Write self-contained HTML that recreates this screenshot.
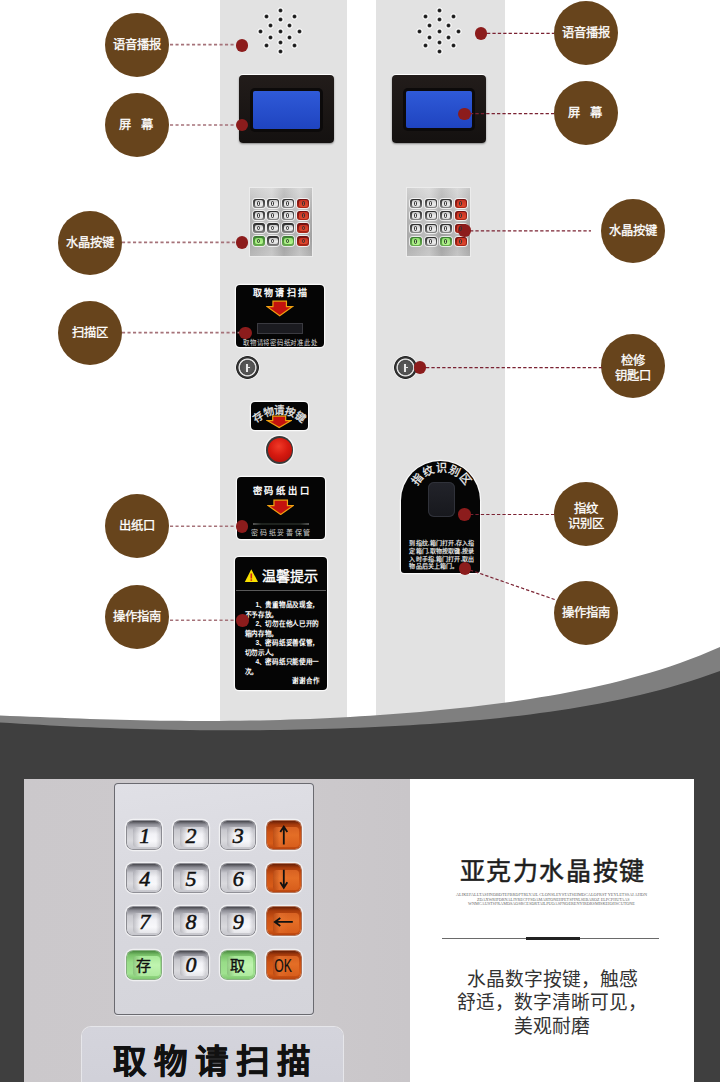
<!DOCTYPE html>
<html lang="zh-CN"><head><meta charset="utf-8">
<style>
html,body{margin:0;padding:0;}
body{width:720px;height:1082px;overflow:hidden;position:relative;background:#fff;font-family:"Liberation Sans",sans-serif;}
.a{position:absolute;}
.panel{position:absolute;top:0;height:740px;background:#e2e2e2;}
.c{position:absolute;width:64px;height:64px;border-radius:50%;background:#67441c;color:#fff;font-weight:normal;-webkit-text-stroke:0.3px #fff;font-size:12.3px;display:flex;align-items:center;justify-content:center;text-align:center;line-height:15px;white-space:nowrap;}
.dot{position:absolute;width:12.5px;height:12.5px;border-radius:50%;background:#8c1c1c;}
.dl{position:absolute;height:2px;background:repeating-linear-gradient(90deg,#a07078 0 3.6px,transparent 3.6px 5.3px);}
.dr{position:absolute;height:1.3px;background:repeating-linear-gradient(90deg,#7a2232 0 3.4px,transparent 3.4px 5.4px);}
.sp{position:absolute;width:7px;height:7px;border-radius:50%;background:radial-gradient(circle closest-side,#151515 0,#222 38%,#8a8a8a 52%,#ffffff 72%,rgba(255,255,255,.6) 88%,rgba(255,255,255,0) 100%);}
.scr{position:absolute;border-radius:4px;background:linear-gradient(#221c1a,#141110);box-shadow:0 -1px 0 #fff, 0 1px 2px rgba(0,0,0,.4);}
.blue{position:absolute;border-radius:2px;background:linear-gradient(#2f5ad8,#1f44c0);box-shadow:0 0 0 3px #0c0a0a;}
.kp{position:absolute;background:linear-gradient(90deg,rgba(255,255,255,.0),rgba(255,255,255,.25) 35%,rgba(0,0,0,.06) 55%,rgba(255,255,255,.2) 80%,rgba(0,0,0,.05)),linear-gradient(#d0d0d0,#b2b2b2 45%,#a8a8a8 75%,#b8b8b8);box-shadow:0 0 0 1px #ececec;}
.sk{position:absolute;width:12px;height:9.5px;border-radius:3px;background:linear-gradient(#2a2a2a,#5a5a5a 60%,#8a8a8a);box-shadow:0 0 0 1px rgba(255,255,255,.75);font:bold 6px/8px "Liberation Serif",serif;color:#222;text-align:center;}
.sk::after{content:"";position:absolute;left:2.2px;top:1.6px;width:8.6px;height:6.6px;border-radius:2px;background:linear-gradient(#c8c8c8,#ececec 60%,#d8d8d8);}
.sk.r{background:linear-gradient(#701010,#b02818);}
.sk.r::after{background:linear-gradient(#c83222,#e04a30);}
.sk.g{background:linear-gradient(#3a7a30,#6ab050);}
.sk.g::after{background:linear-gradient(#90e070,#b8f890);}
.sk i{position:absolute;left:4.3px;top:2.4px;width:3.2px;height:4.6px;border:0.9px solid #333;border-radius:1.5px;box-sizing:border-box;z-index:1;}
.blk{position:absolute;background:#050505;border-radius:4px;box-shadow:0 0 0 1.2px #fafafa;color:#fff;text-align:center;}
</style></head><body>
<div class="panel" style="left:220px;width:127px;"></div>
<div class="panel" style="left:376px;width:129px;"></div>
<div class="sp" style="left:276.5px;top:7.2px"></div>
<div class="sp" style="left:276.5px;top:15.9px"></div>
<div class="sp" style="left:276.5px;top:27.7px"></div>
<div class="sp" style="left:276.5px;top:39.2px"></div>
<div class="sp" style="left:276.5px;top:47.7px"></div>
<div class="sp" style="left:262.5px;top:13.2px"></div>
<div class="sp" style="left:290.5px;top:13.2px"></div>
<div class="sp" style="left:262.5px;top:42.2px"></div>
<div class="sp" style="left:290.5px;top:42.2px"></div>
<div class="sp" style="left:266.5px;top:21.7px"></div>
<div class="sp" style="left:286.0px;top:21.7px"></div>
<div class="sp" style="left:266.5px;top:33.7px"></div>
<div class="sp" style="left:286.0px;top:33.7px"></div>
<div class="sp" style="left:256.5px;top:27.7px"></div>
<div class="sp" style="left:296.0px;top:27.7px"></div>
<div class="sp" style="left:435.5px;top:7.1px"></div>
<div class="sp" style="left:435.5px;top:15.8px"></div>
<div class="sp" style="left:435.5px;top:27.6px"></div>
<div class="sp" style="left:435.5px;top:39.1px"></div>
<div class="sp" style="left:435.5px;top:47.6px"></div>
<div class="sp" style="left:421.5px;top:13.1px"></div>
<div class="sp" style="left:449.5px;top:13.1px"></div>
<div class="sp" style="left:421.5px;top:42.1px"></div>
<div class="sp" style="left:449.5px;top:42.1px"></div>
<div class="sp" style="left:425.5px;top:21.6px"></div>
<div class="sp" style="left:445.0px;top:21.6px"></div>
<div class="sp" style="left:425.5px;top:33.6px"></div>
<div class="sp" style="left:445.0px;top:33.6px"></div>
<div class="sp" style="left:415.5px;top:27.6px"></div>
<div class="sp" style="left:455.0px;top:27.6px"></div>
<div class="scr" style="left:239.0px;top:75.0px;width:95.0px;height:68.0px"></div>
<div class="blue" style="left:252.5px;top:90.5px;width:67.0px;height:38.2px"></div>
<div class="scr" style="left:392.0px;top:75.0px;width:93.6px;height:67.7px"></div>
<div class="blue" style="left:405.6px;top:90.7px;width:66.2px;height:37.7px"></div>
<div class="kp" style="left:250.0px;top:188.0px;width:62.0px;height:68.0px"></div>
<div class="sk" style="left:252.5px;top:198.6px"><i></i></div>
<div class="sk" style="left:267.0px;top:198.6px"><i></i></div>
<div class="sk" style="left:282.0px;top:198.6px"><i></i></div>
<div class="sk r" style="left:297.3px;top:198.6px"><i></i></div>
<div class="sk" style="left:252.5px;top:210.7px"><i></i></div>
<div class="sk" style="left:267.0px;top:210.7px"><i></i></div>
<div class="sk" style="left:282.0px;top:210.7px"><i></i></div>
<div class="sk r" style="left:297.3px;top:210.7px"><i></i></div>
<div class="sk" style="left:252.5px;top:223.2px"><i></i></div>
<div class="sk" style="left:267.0px;top:223.2px"><i></i></div>
<div class="sk" style="left:282.0px;top:223.2px"><i></i></div>
<div class="sk r" style="left:297.3px;top:223.2px"><i></i></div>
<div class="sk g" style="left:252.5px;top:236.3px"><i></i></div>
<div class="sk" style="left:267.0px;top:236.3px"><i></i></div>
<div class="sk g" style="left:282.0px;top:236.3px"><i></i></div>
<div class="sk r" style="left:297.3px;top:236.3px"><i></i></div>
<div class="kp" style="left:407.4px;top:187.8px;width:62.9px;height:68.0px"></div>
<div class="sk" style="left:409.7px;top:198.6px"><i></i></div>
<div class="sk" style="left:425.0px;top:198.6px"><i></i></div>
<div class="sk" style="left:439.6px;top:198.6px"><i></i></div>
<div class="sk r" style="left:454.8px;top:198.6px"><i></i></div>
<div class="sk" style="left:409.7px;top:210.8px"><i></i></div>
<div class="sk" style="left:425.0px;top:210.8px"><i></i></div>
<div class="sk" style="left:439.6px;top:210.8px"><i></i></div>
<div class="sk r" style="left:454.8px;top:210.8px"><i></i></div>
<div class="sk" style="left:409.7px;top:223.6px"><i></i></div>
<div class="sk" style="left:425.0px;top:223.6px"><i></i></div>
<div class="sk" style="left:439.6px;top:223.6px"><i></i></div>
<div class="sk r" style="left:454.8px;top:223.6px"><i></i></div>
<div class="sk g" style="left:409.7px;top:236.6px"><i></i></div>
<div class="sk" style="left:425.0px;top:236.6px"><i></i></div>
<div class="sk g" style="left:439.6px;top:236.6px"><i></i></div>
<div class="sk r" style="left:454.8px;top:236.6px"><i></i></div>
<div class="blk" style="left:235.7px;top:284.9px;width:88.6px;height:62.6px;"></div>
<div class="a" style="left:235.7px;top:286.6px;width:88.6px;height:13.5px;line-height:13.5px;font-size:9.00px;text-align:center;white-space:nowrap;color:#fff;-webkit-text-stroke:0.35px #fff;letter-spacing:2.1px;text-indent:2.1px;">取物请扫描</div>
<svg class="a" style="left:266.3px;top:300.3px" width="27.4" height="16.9"><path d="M6.95,1.20 L20.45,1.20 L20.45,6.71 L26.20,6.71 L13.70,15.70 L1.20,6.71 L6.95,6.71 Z" fill="#c4120e" stroke="#f0a010" stroke-width="1.2" stroke-linejoin="miter"/></svg>
<div class="a" style="left:257px;top:323.2px;width:46px;height:11px;background:#1b1b20;box-shadow:inset 0 0 0 1px #3a3a40;"></div>
<div class="a" style="left:235.7px;top:338.0px;width:88.6px;height:9.6px;line-height:9.6px;font-size:6.40px;text-align:center;white-space:nowrap;color:#fff;color:#ddd;letter-spacing:0.75px;text-indent:0.75px;">取物请将密码纸对准此处</div>
<div class="a" style="left:234.7px;top:355.4px;width:25px;height:25px;border-radius:50%;background:radial-gradient(circle closest-side,#606060 0,#4e4e4e 7.2px,#d0d0d0 7.9px,#e8e8e8 8.6px,#3a3a3a 9.4px,#262626 11px,#f6f6f6 11.8px,rgba(246,246,246,0) 12.5px);"></div>
<div class="a" style="left:246.4px;top:363.9px;width:1.5px;height:8px;background:#e8e8e8;"></div>
<div class="a" style="left:247.9px;top:366.9px;width:2px;height:1.2px;background:#e8e8e8;"></div>
<div class="a" style="left:392.5px;top:355.0px;width:25px;height:25px;border-radius:50%;background:radial-gradient(circle closest-side,#606060 0,#4e4e4e 7.2px,#d0d0d0 7.9px,#e8e8e8 8.6px,#3a3a3a 9.4px,#262626 11px,#f6f6f6 11.8px,rgba(246,246,246,0) 12.5px);"></div>
<div class="a" style="left:404.2px;top:363.5px;width:1.5px;height:8px;background:#e8e8e8;"></div>
<div class="a" style="left:405.7px;top:366.5px;width:2px;height:1.2px;background:#e8e8e8;"></div>
<div class="blk" style="left:250.7px;top:401.9px;width:57.6px;height:28.6px;"></div>
<div class="a" style="left:252.5px;top:412.1px;width:10.5px;height:10.5px;line-height:10.5px;font-size:10.5px;text-align:center;color:#fff;-webkit-text-stroke:0.3px currentColor;transform:rotate(-35.0deg);color:#e8e8e8;">存</div>
<div class="a" style="left:262.7px;top:407.1px;width:10.5px;height:10.5px;line-height:10.5px;font-size:10.5px;text-align:center;color:#fff;-webkit-text-stroke:0.3px currentColor;transform:rotate(-17.5deg);color:#e8e8e8;">物</div>
<div class="a" style="left:273.9px;top:405.4px;width:10.5px;height:10.5px;line-height:10.5px;font-size:10.5px;text-align:center;color:#fff;-webkit-text-stroke:0.3px currentColor;transform:rotate(0.0deg);color:#e8e8e8;">请</div>
<div class="a" style="left:285.2px;top:407.1px;width:10.5px;height:10.5px;line-height:10.5px;font-size:10.5px;text-align:center;color:#fff;-webkit-text-stroke:0.3px currentColor;transform:rotate(17.5deg);color:#e8e8e8;">按</div>
<div class="a" style="left:295.4px;top:412.1px;width:10.5px;height:10.5px;line-height:10.5px;font-size:10.5px;text-align:center;color:#fff;-webkit-text-stroke:0.3px currentColor;transform:rotate(35.0deg);color:#e8e8e8;">键</div>
<svg class="a" style="left:266.1px;top:414.8px" width="26.4" height="13.8"><path d="M6.72,1.20 L19.68,1.20 L19.68,5.53 L25.20,5.53 L13.20,12.60 L1.20,5.53 L6.72,5.53 Z" fill="#c4120e" stroke="#f0a010" stroke-width="1.2" stroke-linejoin="miter"/></svg>
<div class="a" style="left:265.9px;top:436.1px;width:27.5px;height:27.5px;border-radius:50%;background:#3a3a3a;box-shadow:0 0 0 1.3px #f5f5f5;"></div>
<div class="a" style="left:267.7px;top:437.9px;width:24px;height:24px;border-radius:50%;background:radial-gradient(circle at 45% 35%,#f03a28 0,#d61a10 45%,#a80c08 100%);"></div>
<div class="blk" style="left:236.5px;top:476.9px;width:88.6px;height:62.6px;"></div>
<div class="a" style="left:236.5px;top:484.0px;width:88.6px;height:14.0px;line-height:14.0px;font-size:9.30px;text-align:center;white-space:nowrap;color:#fff;-webkit-text-stroke:0.35px #fff;letter-spacing:2.8px;text-indent:2.8px;">密码纸出口</div>
<svg class="a" style="left:266.8px;top:498.8px" width="27.4" height="16.7"><path d="M6.95,1.20 L20.45,1.20 L20.45,6.63 L26.20,6.63 L13.70,15.50 L1.20,6.63 L6.95,6.63 Z" fill="#c4120e" stroke="#f0a010" stroke-width="1.2" stroke-linejoin="miter"/></svg>
<div class="a" style="left:253px;top:522.5px;width:56px;height:2px;background:linear-gradient(90deg,#555,#1e221e 15%,#1e221e 85%,#555);"></div>
<div class="a" style="left:236.5px;top:528.4px;width:88.6px;height:10.5px;line-height:10.5px;font-size:7.00px;text-align:center;white-space:nowrap;color:#fff;color:#ccc;letter-spacing:1.7px;text-indent:1.7px;">密码纸妥善保管</div>
<div class="blk" style="left:234.9px;top:556.9px;width:91.7px;height:132.9px;"></div>
<svg class="a" style="left:244px;top:568px" width="15" height="15"><path d="M7.3,1.2 L14,14 L0.8,14 Z" fill="#f8e000"/><rect x="6.5" y="5.5" width="1.6" height="5" fill="#d0201a"/><rect x="6.5" y="11.3" width="1.6" height="1.5" fill="#d0201a"/></svg>
<div class="a" style="left:262px;top:566px;width:60px;height:20px;line-height:20px;font-size:14px;color:#fff;-webkit-text-stroke:0.4px #fff;white-space:nowrap;">温馨提示</div>
<div class="a" style="left:236px;top:589.5px;width:90px;height:1.2px;background:#5a5a5a;"></div>
<div class="a" style="left:255.4px;top:600.0px;height:10px;line-height:10px;font-size:6.6px;color:#fff;font-weight:bold;white-space:nowrap;letter-spacing:-0.3px;">1、贵重物品及现金，</div>
<div class="a" style="left:244.5px;top:609.5px;height:10px;line-height:10px;font-size:6.6px;color:#fff;font-weight:bold;white-space:nowrap;letter-spacing:-0.3px;">不予存放。</div>
<div class="a" style="left:255.4px;top:619.0px;height:10px;line-height:10px;font-size:6.6px;color:#fff;font-weight:bold;white-space:nowrap;letter-spacing:-0.3px;">2、切勿在他人已开的</div>
<div class="a" style="left:244.5px;top:628.5px;height:10px;line-height:10px;font-size:6.6px;color:#fff;font-weight:bold;white-space:nowrap;letter-spacing:-0.3px;">箱内存物。</div>
<div class="a" style="left:255.4px;top:638.0px;height:10px;line-height:10px;font-size:6.6px;color:#fff;font-weight:bold;white-space:nowrap;letter-spacing:-0.3px;">3、密码纸妥善保管，</div>
<div class="a" style="left:244.5px;top:647.5px;height:10px;line-height:10px;font-size:6.6px;color:#fff;font-weight:bold;white-space:nowrap;letter-spacing:-0.3px;">切勿示人。</div>
<div class="a" style="left:255.4px;top:657.1px;height:10px;line-height:10px;font-size:6.6px;color:#fff;font-weight:bold;white-space:nowrap;letter-spacing:-0.3px;">4、密码纸只能使用一</div>
<div class="a" style="left:244.5px;top:666.6px;height:10px;line-height:10px;font-size:6.6px;color:#fff;font-weight:bold;white-space:nowrap;letter-spacing:-0.3px;">次。</div>
<div class="a" style="left:291.5px;top:675.8px;height:10px;line-height:10px;font-size:6.5px;color:#fff;font-weight:bold;white-space:nowrap;">谢谢合作</div>
<div class="a" style="left:401.1px;top:460.8px;width:79.2px;height:111.8px;background:#050505;border-radius:39.6px 39.6px 3px 3px;box-shadow:0 0 0 1.2px #fafafa;"></div>
<div class="a" style="left:412.1px;top:474.1px;width:11.0px;height:11.0px;line-height:11.0px;font-size:11.0px;text-align:center;color:#fff;-webkit-text-stroke:0.3px currentColor;transform:rotate(-52.0deg);color:#f0f0f0;">指</div>
<div class="a" style="left:422.7px;top:465.6px;width:11.0px;height:11.0px;line-height:11.0px;font-size:11.0px;text-align:center;color:#fff;-webkit-text-stroke:0.3px currentColor;transform:rotate(-26.0deg);color:#f0f0f0;">纹</div>
<div class="a" style="left:435.9px;top:462.5px;width:11.0px;height:11.0px;line-height:11.0px;font-size:11.0px;text-align:center;color:#fff;-webkit-text-stroke:0.3px currentColor;transform:rotate(0.0deg);color:#f0f0f0;">识</div>
<div class="a" style="left:449.1px;top:465.6px;width:11.0px;height:11.0px;line-height:11.0px;font-size:11.0px;text-align:center;color:#fff;-webkit-text-stroke:0.3px currentColor;transform:rotate(26.0deg);color:#f0f0f0;">别</div>
<div class="a" style="left:459.7px;top:474.1px;width:11.0px;height:11.0px;line-height:11.0px;font-size:11.0px;text-align:center;color:#fff;-webkit-text-stroke:0.3px currentColor;transform:rotate(52.0deg);color:#f0f0f0;">区</div>
<div class="a" style="left:427.5px;top:481.7px;width:27.8px;height:35.3px;border-radius:6px;background:linear-gradient(#22232a,#17181d);box-shadow:inset 0 0 0 1px #30323a;"></div>
<div class="a" style="left:409.4px;top:538.8px;height:8px;line-height:8px;font-size:6px;color:#e0e0e0;font-weight:bold;white-space:nowrap;letter-spacing:0.15px;">到指纹,箱门打开,存入指</div>
<div class="a" style="left:409.4px;top:547.1px;height:8px;line-height:8px;font-size:6px;color:#e0e0e0;font-weight:bold;white-space:nowrap;letter-spacing:0.15px;">定箱门,取物按取键,按录</div>
<div class="a" style="left:409.4px;top:554.8px;height:8px;line-height:8px;font-size:6px;color:#e0e0e0;font-weight:bold;white-space:nowrap;letter-spacing:0.15px;">入时手指,箱门打开,取出</div>
<div class="a" style="left:409.4px;top:562.4px;height:8px;line-height:8px;font-size:6px;color:#e0e0e0;font-weight:bold;white-space:nowrap;letter-spacing:0.15px;">物品后关上箱门。</div>
<svg class="a" style="left:0;top:0" width="720" height="1082">
<path fill="#7f7f7f" d="M0,715.58 10,715.93 20,716.30 30,716.68 40,717.06 50,717.44 60,717.82 70,718.18 80,718.54 90,718.88 100,719.21 110,719.51 120,719.79 130,720.04 140,720.27 150,720.47 160,720.63 170,720.77 180,720.87 190,720.94 200,720.97 210,720.97 220,720.93 230,720.85 240,720.74 250,720.59 260,720.40 270,720.17 280,719.91 290,719.60 300,719.26 310,718.88 320,718.45 330,717.99 340,717.49 350,716.95 360,716.36 370,715.74 380,715.07 390,714.36 400,713.60 410,712.80 420,711.96 430,711.06 440,710.11 450,709.11 460,708.06 470,706.95 480,705.78 490,704.55 500,703.26 510,701.89 520,700.45 530,698.94 540,697.34 550,695.66 560,693.88 570,692.01 580,690.03 590,687.95 600,685.74 610,683.42 620,680.96 630,678.36 640,675.61 650,672.71 660,669.63 670,666.38 680,662.94 690,659.30 700,655.45 710,651.37 720,647.06 L720,1082 L0,1082 Z"/>
<path fill="#3f3f3f" d="M0,722.49 10,723.11 20,723.72 30,724.31 40,724.87 50,725.41 60,725.92 70,726.41 80,726.88 90,727.31 100,727.72 110,728.10 120,728.45 130,728.77 140,729.06 150,729.32 160,729.55 170,729.75 180,729.92 190,730.06 200,730.17 210,730.25 220,730.30 230,730.32 240,730.31 250,730.26 260,730.19 270,730.09 280,729.95 290,729.79 300,729.59 310,729.36 320,729.10 330,728.81 340,728.48 350,728.12 360,727.73 370,727.30 380,726.83 390,726.33 400,725.79 410,725.21 420,724.59 430,723.92 440,723.21 450,722.46 460,721.65 470,720.79 480,719.88 490,718.91 500,717.88 510,716.79 520,715.63 530,714.41 540,713.10 550,711.72 560,710.26 570,708.71 580,707.07 590,705.33 600,703.49 610,701.54 620,699.47 630,697.28 640,694.97 650,692.52 660,689.93 670,687.18 680,684.28 690,681.21 700,677.97 710,674.54 720,670.91 L720,1082 L0,1082 Z"/>
</svg>

<div class="c" style="left:105px;top:13px;">语音播报</div>
<div class="c" style="left:105px;top:93px;"><span style="padding-right:2px">屏<span style="display:inline-block;width:10px"></span>幕</span></div>
<div class="c" style="left:58px;top:211px;">水晶按键</div>
<div class="c" style="left:58px;top:301px;">扫描区</div>
<div class="c" style="left:105px;top:494px;">出纸口</div>
<div class="c" style="left:105px;top:585px;">操作指南</div>
<div class="c" style="left:554px;top:1px;">语音播报</div>
<div class="c" style="left:554px;top:81px;"><span style="padding-right:2px">屏<span style="display:inline-block;width:10px"></span>幕</span></div>
<div class="c" style="left:601px;top:199px;">水晶按键</div>
<div class="c" style="left:601px;top:334px;padding-top:5px;box-sizing:border-box;">检修<br>钥匙口</div>
<div class="c" style="left:554px;top:482px;padding-top:5px;box-sizing:border-box;">指纹<br>识别区</div>
<div class="c" style="left:554px;top:581px;">操作指南</div>
<svg class="a" style="left:0;top:0" width="720" height="1082">
<g stroke="#a57279" stroke-width="1.6" stroke-dasharray="3.1 2.4">
<line x1="170" y1="44.6" x2="236" y2="44.6"/>
<line x1="170" y1="125" x2="236" y2="125"/>
<line x1="122" y1="242.4" x2="236" y2="242.4"/>
<line x1="122" y1="332.6" x2="240" y2="332.6"/>
<line x1="170" y1="526.2" x2="236" y2="526.2"/>
<line x1="170" y1="620.2" x2="236" y2="620.2"/>
</g>
<g stroke="#7a2232" stroke-width="1.2" stroke-dasharray="3.3 2.1">
<line x1="487" y1="33.4" x2="554" y2="33.4"/>
<line x1="470" y1="113.7" x2="554" y2="113.7"/>
<line x1="470" y1="230.8" x2="591" y2="230.8"/>
<line x1="426" y1="367.6" x2="602" y2="367.6"/>
<line x1="470" y1="514.5" x2="554" y2="514.5"/>
<line x1="470" y1="570" x2="556" y2="600"/>
</g>
</svg>
<div class="dot" style="left:235.5px;top:39.25px;"></div>
<div class="dot" style="left:235.5px;top:118.75px;"></div>
<div class="dot" style="left:235.5px;top:236.25px;"></div>
<div class="dot" style="left:239.3px;top:326.5px;"></div>
<div class="dot" style="left:235.8px;top:520px;"></div>
<div class="dot" style="left:236.3px;top:614px;"></div>
<div class="dot" style="left:474.8px;top:27px;"></div>
<div class="dot" style="left:458.1px;top:107.5px;"></div>
<div class="dot" style="left:458px;top:224.2px;"></div>
<div class="dot" style="left:413.7px;top:361.2px;"></div>
<div class="dot" style="left:458px;top:508px;"></div>
<div class="dot" style="left:458.7px;top:562.2px;"></div>

<div class="a" style="left:24px;top:779px;width:386px;height:303px;background:linear-gradient(90deg,#cbc8cb,#cdcacd 60%,#c9c6c9);"></div>
<div class="a" style="left:410px;top:779px;width:284px;height:303px;background:#fff;"></div>
<div class="a" style="left:113.5px;top:783.2px;width:200px;height:232.3px;border-radius:4px;background:linear-gradient(170deg,#e0e0e6,#d8d8de 50%,#d4d4da);box-shadow:inset 0 0 0 1px #6a6a70, 0 1px 0 #e8e8ec;"></div>
<div class="a" style="left:127.2px;top:821.1px;width:34px;height:28px;border-radius:6px;background:linear-gradient(#46464c,#8c8c94 12%,#c8c8ce 32%,#dadade 70%,#c6c6cc);box-shadow:0 0 0 0.8px rgba(100,100,108,.9),0 0 0 2.2px rgba(255,255,255,.6);"></div>
<div class="a" style="left:133.2px;top:826.6px;width:26.5px;height:20px;border-radius:3.5px;background:linear-gradient(90deg,rgba(90,90,100,.35),rgba(0,0,0,0) 28%,rgba(0,0,0,0) 85%,rgba(90,90,100,.2)),linear-gradient(#d0d0d6,#f2f2f6 35%,#f8f8fb 70%,#e6e6ea);"></div>
<div class="a" style="left:127.7px;top:821.9px;width:34px;height:28px;line-height:28px;text-align:center;font-family:'Liberation Serif',serif;font-style:italic;font-size:22px;color:#111;-webkit-text-stroke:0.55px #111;">1</div>
<div class="a" style="left:173.5px;top:821.1px;width:34px;height:28px;border-radius:6px;background:linear-gradient(#46464c,#8c8c94 12%,#c8c8ce 32%,#dadade 70%,#c6c6cc);box-shadow:0 0 0 0.8px rgba(100,100,108,.9),0 0 0 2.2px rgba(255,255,255,.6);"></div>
<div class="a" style="left:179.5px;top:826.6px;width:26.5px;height:20px;border-radius:3.5px;background:linear-gradient(90deg,rgba(90,90,100,.35),rgba(0,0,0,0) 28%,rgba(0,0,0,0) 85%,rgba(90,90,100,.2)),linear-gradient(#d0d0d6,#f2f2f6 35%,#f8f8fb 70%,#e6e6ea);"></div>
<div class="a" style="left:174.0px;top:821.9px;width:34px;height:28px;line-height:28px;text-align:center;font-family:'Liberation Serif',serif;font-style:italic;font-size:22px;color:#111;-webkit-text-stroke:0.55px #111;">2</div>
<div class="a" style="left:220.8px;top:821.1px;width:34px;height:28px;border-radius:6px;background:linear-gradient(#46464c,#8c8c94 12%,#c8c8ce 32%,#dadade 70%,#c6c6cc);box-shadow:0 0 0 0.8px rgba(100,100,108,.9),0 0 0 2.2px rgba(255,255,255,.6);"></div>
<div class="a" style="left:226.8px;top:826.6px;width:26.5px;height:20px;border-radius:3.5px;background:linear-gradient(90deg,rgba(90,90,100,.35),rgba(0,0,0,0) 28%,rgba(0,0,0,0) 85%,rgba(90,90,100,.2)),linear-gradient(#d0d0d6,#f2f2f6 35%,#f8f8fb 70%,#e6e6ea);"></div>
<div class="a" style="left:221.3px;top:821.9px;width:34px;height:28px;line-height:28px;text-align:center;font-family:'Liberation Serif',serif;font-style:italic;font-size:22px;color:#111;-webkit-text-stroke:0.55px #111;">3</div>
<div class="a" style="left:266.8px;top:821.1px;width:34px;height:28px;border-radius:6px;background:linear-gradient(#6a2006,#a83c0c 14%,#cc5214 40%,#d85c18 80%,#b8440e);box-shadow:0 0 0 0.8px rgba(150,60,20,.9),0 0 0 2.2px rgba(255,255,255,.6);"></div>
<div class="a" style="left:272.8px;top:826.6px;width:26.5px;height:20px;border-radius:3.5px;background:linear-gradient(90deg,rgba(120,30,0,.35),rgba(255,150,80,.15) 25%,rgba(0,0,0,0) 60%),linear-gradient(#d86222,#e46e26 40%,#d85e1c);"></div>
<svg class="a" style="left:0;top:0;overflow:visible" width="1" height="1"><path d="M283.8,844.6 L283.8,827.6 M280.3,832.1 L283.8,826.6 L287.3,832.1" stroke="#111" stroke-width="1.8" fill="none"/></svg>
<div class="a" style="left:127.2px;top:864.2px;width:34px;height:28px;border-radius:6px;background:linear-gradient(#46464c,#8c8c94 12%,#c8c8ce 32%,#dadade 70%,#c6c6cc);box-shadow:0 0 0 0.8px rgba(100,100,108,.9),0 0 0 2.2px rgba(255,255,255,.6);"></div>
<div class="a" style="left:133.2px;top:869.7px;width:26.5px;height:20px;border-radius:3.5px;background:linear-gradient(90deg,rgba(90,90,100,.35),rgba(0,0,0,0) 28%,rgba(0,0,0,0) 85%,rgba(90,90,100,.2)),linear-gradient(#d0d0d6,#f2f2f6 35%,#f8f8fb 70%,#e6e6ea);"></div>
<div class="a" style="left:127.7px;top:865.0px;width:34px;height:28px;line-height:28px;text-align:center;font-family:'Liberation Serif',serif;font-style:italic;font-size:22px;color:#111;-webkit-text-stroke:0.55px #111;">4</div>
<div class="a" style="left:173.5px;top:864.2px;width:34px;height:28px;border-radius:6px;background:linear-gradient(#46464c,#8c8c94 12%,#c8c8ce 32%,#dadade 70%,#c6c6cc);box-shadow:0 0 0 0.8px rgba(100,100,108,.9),0 0 0 2.2px rgba(255,255,255,.6);"></div>
<div class="a" style="left:179.5px;top:869.7px;width:26.5px;height:20px;border-radius:3.5px;background:linear-gradient(90deg,rgba(90,90,100,.35),rgba(0,0,0,0) 28%,rgba(0,0,0,0) 85%,rgba(90,90,100,.2)),linear-gradient(#d0d0d6,#f2f2f6 35%,#f8f8fb 70%,#e6e6ea);"></div>
<div class="a" style="left:174.0px;top:865.0px;width:34px;height:28px;line-height:28px;text-align:center;font-family:'Liberation Serif',serif;font-style:italic;font-size:22px;color:#111;-webkit-text-stroke:0.55px #111;">5</div>
<div class="a" style="left:220.8px;top:864.2px;width:34px;height:28px;border-radius:6px;background:linear-gradient(#46464c,#8c8c94 12%,#c8c8ce 32%,#dadade 70%,#c6c6cc);box-shadow:0 0 0 0.8px rgba(100,100,108,.9),0 0 0 2.2px rgba(255,255,255,.6);"></div>
<div class="a" style="left:226.8px;top:869.7px;width:26.5px;height:20px;border-radius:3.5px;background:linear-gradient(90deg,rgba(90,90,100,.35),rgba(0,0,0,0) 28%,rgba(0,0,0,0) 85%,rgba(90,90,100,.2)),linear-gradient(#d0d0d6,#f2f2f6 35%,#f8f8fb 70%,#e6e6ea);"></div>
<div class="a" style="left:221.3px;top:865.0px;width:34px;height:28px;line-height:28px;text-align:center;font-family:'Liberation Serif',serif;font-style:italic;font-size:22px;color:#111;-webkit-text-stroke:0.55px #111;">6</div>
<div class="a" style="left:266.8px;top:864.2px;width:34px;height:28px;border-radius:6px;background:linear-gradient(#6a2006,#a83c0c 14%,#cc5214 40%,#d85c18 80%,#b8440e);box-shadow:0 0 0 0.8px rgba(150,60,20,.9),0 0 0 2.2px rgba(255,255,255,.6);"></div>
<div class="a" style="left:272.8px;top:869.7px;width:26.5px;height:20px;border-radius:3.5px;background:linear-gradient(90deg,rgba(120,30,0,.35),rgba(255,150,80,.15) 25%,rgba(0,0,0,0) 60%),linear-gradient(#d86222,#e46e26 40%,#d85e1c);"></div>
<svg class="a" style="left:0;top:0;overflow:visible" width="1" height="1"><path d="M283.8,869.7 L283.8,886.7 M280.3,882.2 L283.8,887.7 L287.3,882.2" stroke="#111" stroke-width="1.8" fill="none"/></svg>
<div class="a" style="left:127.2px;top:907.4px;width:34px;height:28px;border-radius:6px;background:linear-gradient(#46464c,#8c8c94 12%,#c8c8ce 32%,#dadade 70%,#c6c6cc);box-shadow:0 0 0 0.8px rgba(100,100,108,.9),0 0 0 2.2px rgba(255,255,255,.6);"></div>
<div class="a" style="left:133.2px;top:912.9px;width:26.5px;height:20px;border-radius:3.5px;background:linear-gradient(90deg,rgba(90,90,100,.35),rgba(0,0,0,0) 28%,rgba(0,0,0,0) 85%,rgba(90,90,100,.2)),linear-gradient(#d0d0d6,#f2f2f6 35%,#f8f8fb 70%,#e6e6ea);"></div>
<div class="a" style="left:127.7px;top:908.2px;width:34px;height:28px;line-height:28px;text-align:center;font-family:'Liberation Serif',serif;font-style:italic;font-size:22px;color:#111;-webkit-text-stroke:0.55px #111;">7</div>
<div class="a" style="left:173.5px;top:907.4px;width:34px;height:28px;border-radius:6px;background:linear-gradient(#46464c,#8c8c94 12%,#c8c8ce 32%,#dadade 70%,#c6c6cc);box-shadow:0 0 0 0.8px rgba(100,100,108,.9),0 0 0 2.2px rgba(255,255,255,.6);"></div>
<div class="a" style="left:179.5px;top:912.9px;width:26.5px;height:20px;border-radius:3.5px;background:linear-gradient(90deg,rgba(90,90,100,.35),rgba(0,0,0,0) 28%,rgba(0,0,0,0) 85%,rgba(90,90,100,.2)),linear-gradient(#d0d0d6,#f2f2f6 35%,#f8f8fb 70%,#e6e6ea);"></div>
<div class="a" style="left:174.0px;top:908.2px;width:34px;height:28px;line-height:28px;text-align:center;font-family:'Liberation Serif',serif;font-style:italic;font-size:22px;color:#111;-webkit-text-stroke:0.55px #111;">8</div>
<div class="a" style="left:220.8px;top:907.4px;width:34px;height:28px;border-radius:6px;background:linear-gradient(#46464c,#8c8c94 12%,#c8c8ce 32%,#dadade 70%,#c6c6cc);box-shadow:0 0 0 0.8px rgba(100,100,108,.9),0 0 0 2.2px rgba(255,255,255,.6);"></div>
<div class="a" style="left:226.8px;top:912.9px;width:26.5px;height:20px;border-radius:3.5px;background:linear-gradient(90deg,rgba(90,90,100,.35),rgba(0,0,0,0) 28%,rgba(0,0,0,0) 85%,rgba(90,90,100,.2)),linear-gradient(#d0d0d6,#f2f2f6 35%,#f8f8fb 70%,#e6e6ea);"></div>
<div class="a" style="left:221.3px;top:908.2px;width:34px;height:28px;line-height:28px;text-align:center;font-family:'Liberation Serif',serif;font-style:italic;font-size:22px;color:#111;-webkit-text-stroke:0.55px #111;">9</div>
<div class="a" style="left:266.8px;top:907.4px;width:34px;height:28px;border-radius:6px;background:linear-gradient(#6a2006,#a83c0c 14%,#cc5214 40%,#d85c18 80%,#b8440e);box-shadow:0 0 0 0.8px rgba(150,60,20,.9),0 0 0 2.2px rgba(255,255,255,.6);"></div>
<div class="a" style="left:272.8px;top:912.9px;width:26.5px;height:20px;border-radius:3.5px;background:linear-gradient(90deg,rgba(120,30,0,.35),rgba(255,150,80,.15) 25%,rgba(0,0,0,0) 60%),linear-gradient(#d86222,#e46e26 40%,#d85e1c);"></div>
<svg class="a" style="left:0;top:0;overflow:visible" width="1" height="1"><path d="M292.8,921.9 L275.8,921.9 M280.3,917.9 L274.8,921.9 L280.3,925.9" stroke="#111" stroke-width="1.8" fill="none"/></svg>
<div class="a" style="left:127.2px;top:950.5px;width:34px;height:28px;border-radius:6px;background:linear-gradient(#4a8a40,#78c068 14%,#98dc88 40%,#a0e290 80%,#80c870);box-shadow:0 0 0 0.8px rgba(90,150,80,.9),0 0 0 2.2px rgba(255,255,255,.6);"></div>
<div class="a" style="left:133.2px;top:956.0px;width:26.5px;height:20px;border-radius:3.5px;background:linear-gradient(90deg,rgba(40,100,30,.3),rgba(0,0,0,0) 30%),linear-gradient(#a8e898,#c0f4b0 45%,#aeea9e);"></div>
<div class="a" style="left:126.7px;top:952.0px;width:34px;height:28px;line-height:28px;text-align:center;font-size:15px;color:#111;-webkit-text-stroke:0.4px #111;">存</div>
<div class="a" style="left:173.5px;top:950.5px;width:34px;height:28px;border-radius:6px;background:linear-gradient(#46464c,#8c8c94 12%,#c8c8ce 32%,#dadade 70%,#c6c6cc);box-shadow:0 0 0 0.8px rgba(100,100,108,.9),0 0 0 2.2px rgba(255,255,255,.6);"></div>
<div class="a" style="left:179.5px;top:956.0px;width:26.5px;height:20px;border-radius:3.5px;background:linear-gradient(90deg,rgba(90,90,100,.35),rgba(0,0,0,0) 28%,rgba(0,0,0,0) 85%,rgba(90,90,100,.2)),linear-gradient(#d0d0d6,#f2f2f6 35%,#f8f8fb 70%,#e6e6ea);"></div>
<div class="a" style="left:174.0px;top:951.3px;width:34px;height:28px;line-height:28px;text-align:center;font-family:'Liberation Serif',serif;font-style:italic;font-size:22px;color:#111;-webkit-text-stroke:0.55px #111;">0</div>
<div class="a" style="left:220.8px;top:950.5px;width:34px;height:28px;border-radius:6px;background:linear-gradient(#4a8a40,#78c068 14%,#98dc88 40%,#a0e290 80%,#80c870);box-shadow:0 0 0 0.8px rgba(90,150,80,.9),0 0 0 2.2px rgba(255,255,255,.6);"></div>
<div class="a" style="left:226.8px;top:956.0px;width:26.5px;height:20px;border-radius:3.5px;background:linear-gradient(90deg,rgba(40,100,30,.3),rgba(0,0,0,0) 30%),linear-gradient(#a8e898,#c0f4b0 45%,#aeea9e);"></div>
<div class="a" style="left:220.3px;top:952.0px;width:34px;height:28px;line-height:28px;text-align:center;font-size:15px;color:#111;-webkit-text-stroke:0.4px #111;">取</div>
<div class="a" style="left:266.8px;top:950.5px;width:34px;height:28px;border-radius:6px;background:linear-gradient(#6a2006,#a83c0c 14%,#cc5214 40%,#d85c18 80%,#b8440e);box-shadow:0 0 0 0.8px rgba(150,60,20,.9),0 0 0 2.2px rgba(255,255,255,.6);"></div>
<div class="a" style="left:272.8px;top:956.0px;width:26.5px;height:20px;border-radius:3.5px;background:linear-gradient(90deg,rgba(120,30,0,.35),rgba(255,150,80,.15) 25%,rgba(0,0,0,0) 60%),linear-gradient(#d86222,#e46e26 40%,#d85e1c);"></div>
<div class="a" style="left:266.3px;top:952.0px;width:34px;height:28px;line-height:28px;text-align:center;font-size:19px;color:#111;transform:scaleX(0.64);-webkit-text-stroke:0.2px #111;">OK</div>
<div class="a" style="left:81.7px;top:1027px;width:261.6px;height:70px;border-radius:9px;background:linear-gradient(#d4d4dc,#d0d0d8);box-shadow:0 0 0 1px #e6e6ea;"></div>
<div class="a" style="left:112.5px;top:1040px;width:230px;height:44px;line-height:44px;font-size:33.5px;font-weight:bold;color:#111;-webkit-text-stroke:0.6px #111;letter-spacing:8.2px;white-space:nowrap;">取物请扫描</div>
<div class="a" style="left:410px;top:854px;width:284px;height:34px;line-height:34px;text-align:center;font-size:25px;font-weight:normal;color:#1e1e1e;-webkit-text-stroke:0.55px #1e1e1e;white-space:nowrap;letter-spacing:1.6px;text-indent:1.6px;">亚克力水晶按键</div>
<svg class="a" style="left:0;top:0" width="720" height="1082"><text x="456.0" y="896.4" textLength="191.0" lengthAdjust="spacingAndGlyphs" font-family="Liberation Serif" font-size="4.2" fill="#666">ALIKEFALLTASHNDBDTEFBRDFTRLYAIL CLONSLEYSTATSEIMDCALOFRST YEYLETSSAI AHDN</text><text x="476.9" y="900.7" textLength="152.8" lengthAdjust="spacingAndGlyphs" font-family="Liberation Serif" font-size="4.2" fill="#666">ZDAXWRIFDRNALIYRECFFSDAMARTONEHPETSFINLSEBAROZ ELPCPHUTAAS</text><text x="468.0" y="905.0" textLength="166.9" lengthAdjust="spacingAndGlyphs" font-family="Liberation Serif" font-size="4.2" fill="#666">WNMCAUSTSFRAMDSAOSRCESDRTAILPUOASFNOERENYIRDRSMISKEIOHSCUTONE</text></svg>
<div class="a" style="left:442px;top:937.5px;width:217px;height:1.2px;background:#6a6a6a;"></div>
<div class="a" style="left:525.5px;top:936.5px;width:54px;height:3px;background:#222;"></div>
<div class="a" style="left:415px;top:967.8px;width:274px;height:24px;line-height:24px;text-align:center;font-size:18.8px;color:#333;white-space:nowrap;">水晶数字按键，触感</div>
<div class="a" style="left:415px;top:991.2px;width:274px;height:24px;line-height:24px;text-align:center;font-size:18.8px;color:#333;white-space:nowrap;">舒适，数字清晰可见，</div>
<div class="a" style="left:415px;top:1014.6px;width:274px;height:24px;line-height:24px;text-align:center;font-size:18.8px;color:#333;white-space:nowrap;">美观耐磨</div>
</body></html>
